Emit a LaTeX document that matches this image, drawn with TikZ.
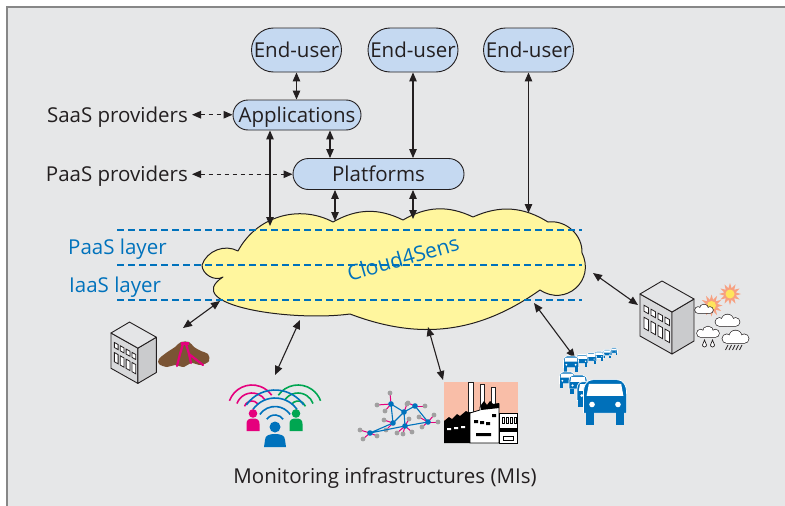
\documentclass[tikz,border=0pt]{standalone}
\usepackage{fontspec}
\setmainfont{Open Sans}
\usetikzlibrary{arrows.meta,shapes.misc}

\definecolor{bgc}{RGB}{230,231,232}
\definecolor{framec}{RGB}{135,135,135}
\definecolor{boxc}{RGB}{197,217,241}
\definecolor{inkc}{RGB}{35,31,32}
\definecolor{bluec}{RGB}{0,114,188}
\definecolor{cloudc}{RGB}{255,246,158}
\definecolor{magc}{RGB}{229,0,125}
\definecolor{greenc}{RGB}{0,166,81}
\definecolor{brownc}{RGB}{122,84,52}
\definecolor{salmonc}{RGB}{249,190,168}
\definecolor{sunc}{RGB}{247,160,128}
\definecolor{sunin}{RGB}{255,228,92}
\definecolor{dotc}{RGB}{160,160,160}
\definecolor{btop}{RGB}{228,229,231}
\definecolor{bfront}{RGB}{216,217,219}
\definecolor{bside}{RGB}{202,203,205}
\definecolor{carc}{RGB}{0,112,186}

\newcommand{\txtsize}{\fontsize{20.5}{24}\selectfont}

\tikzset{
  box/.style={rounded rectangle, draw=inkc, line width=0.9pt, fill=boxc, text=inkc,
    inner xsep=1pt, inner ysep=0pt, text height=14.5pt, text depth=0pt, font=\txtsize},
  eubox/.style={box, minimum width=92pt, minimum height=44pt},
  lbl/.style={text=inkc, inner sep=0pt, text height=14.5pt, text depth=0pt, font=\txtsize},
  layerlbl/.style={lbl, text=bluec},
  link/.style={draw=inkc, line width=1.1pt,
    {Triangle[length=9pt,width=7.5pt]}-{Triangle[length=9pt,width=7.5pt]}},
  dlink/.style={link, dash pattern=on 4.5pt off 3.5pt},
  tier/.style={draw=bluec, line width=1.1pt, dash pattern=on 6.5pt off 4.5pt},
  bldg/.pic={
    \draw[inkc, line width=0.9pt, fill=bfront, line join=round] (0,0) -- (32,18) -- (32,60) -- (0,42) -- cycle;
    \draw[inkc, line width=0.9pt, fill=bside, line join=round] (32,18) -- (54,5) -- (54,47) -- (32,60) -- cycle;
    \draw[inkc, line width=0.9pt, fill=btop, line join=round] (0,0) -- (22,-13) -- (54,5) -- (32,18) -- cycle;
    \foreach \u in {4,11,18,25} {
      \draw[inkc, line width=0.8pt, fill=white]
        ({\u},{9+0.5625*\u}) -- ({\u+4.5},{9+0.5625*(\u+4.5)}) -- ({\u+4.5},{15+0.5625*(\u+4.5)}) -- ({\u},{15+0.5625*\u}) -- cycle;
      \draw[inkc, line width=0.8pt, fill=white]
        ({\u},{21+0.5625*\u}) -- ({\u+4.5},{21+0.5625*(\u+4.5)}) -- ({\u+4.5},{32+0.5625*(\u+4.5)}) -- ({\u},{32+0.5625*\u}) -- cycle;
    }
  },
  car/.pic={
    \fill[carc, draw=white, line width=0.7pt] (-20,-11) -- (-20,-29) .. controls (-20,-37) and (-17,-42) .. (-11,-42)
      -- (11,-42) .. controls (17,-42) and (20,-37) .. (20,-29) -- (20,-11) -- cycle;
    \fill[carc] (-18,-12) rectangle (-10,0);
    \fill[carc] (10,-12) rectangle (18,0);
    \fill[white] (-15,-38) -- (15,-38) -- (17,-27) -- (-17,-27) -- cycle;
    \fill[white] (-12,-19) circle (2.6);
    \fill[white] (12,-19) circle (2.6);
  },
  sun/.pic={
    \fill[sunc] plot[variable=\a, samples at={0,15,...,345}]
      ({(8.5+2.5*cos(12*\a))*cos(\a)}, {(8.5+2.5*cos(12*\a))*sin(\a)}) -- cycle;
    \fill[sunin] (0,0) circle (4.5);
  },
  cloudlet/.pic={
    \draw[inkc, line width=1.3pt] (-7,-3.5) circle (3.5) (0,-5) circle (5) (7,-3.5) circle (3.5) (-7,0) -- (7,0);
    \fill[white] (-7,-3.5) circle (3.5);
    \fill[white] (0,-5) circle (5);
    \fill[white] (7,-3.5) circle (3.5);
    \fill[white] (-7,-3.5) rectangle (7,0);
  }
}

\begin{document}
\begin{tikzpicture}[x=1pt, y=-1pt]
\useasboundingbox (0,0) rectangle (785,506);
\fill[white] (0,0) rectangle (785,506);
\fill[bgc] (7,7) rectangle (785,506);
\draw[framec, line width=1.6pt] (7,506) -- (7,7) -- (785,7);

% ---- service nodes ----
\node[eubox] (eu1) at (296.5,50) {End-user};
\node[eubox] (eu2) at (413,50) {End-user};
\node[eubox] (eu3) at (528.5,50) {End-user};
\node[box, minimum width=130pt, minimum height=30pt] (app) at (297,115) {Applications};
\node[box, minimum width=173pt, minimum height=31pt] (plat) at (378.5,174) {Platforms};

\node[lbl, anchor=base east] (saas) at (188,122) {SaaS providers};
\node[lbl, anchor=base east] (paas) at (188,181.5) {PaaS providers};

% ---- the cloud ----
\draw[fill=cloudc, draw=inkc, line width=1pt, line join=round]
  (202,265) to[bend left=50] (238,251)
  to[bend left=45] (333,222)
  to[bend left=28] (403,220)
  to[bend left=28] (473,217)
  to[bend left=28] (548,222)
  to[bend left=50] (582,253)
  to[bend left=75, looseness=1.4] (540,290)
  to[bend left=28] (350,314)
  .. controls (290,322) and (180,305) .. (223,277)
  to[bend left=60] (202,265) -- cycle;

\draw[tier] (117,230) -- (582,230);
\draw[tier] (117,265) -- (582,265);
\draw[tier] (117,300) -- (582,300);

\node[layerlbl, anchor=base west] (paasl) at (68,254) {PaaS layer};
\node[layerlbl, anchor=base west] (iaasl) at (69,292) {IaaS layer};
\node[rotate=16, text=bluec, inner sep=0pt, font=\fontsize{21}{24}\selectfont] (brand) at (403,258) {Cloud4Sens};

% ---- upper connectors ----
\coordinate (xap) at (330,0);
\coordinate (ct1) at (270,226);
\coordinate (ct2) at (335,221);
\coordinate (ct3) at (413,219);
\coordinate (ct4) at (528.5,213);
\draw[link] (eu1.south) -- (eu1.south |- app.north);
\draw[link] (app.south -| xap) -- (plat.north -| xap);
\draw[link] (eu2.south) -- (eu2.south |- plat.north);
\draw[link] (app.south -| ct1) -- (ct1);
\draw[link] (plat.south -| ct2) -- (ct2);
\draw[link] (plat.south -| ct3) -- (ct3);
\draw[link] (eu3.south) -- (ct4);
\draw[dlink] ([xshift=4pt]saas.east) -- (saas.east -| app.west);
\draw[dlink] ([xshift=4pt]paas.east) -- (paas.east -| plat.west);

% ---- lower connectors ----
\coordinate (cb1) at (220,301); \coordinate (mi1) at (183,328);
\coordinate (cb2) at (300,320); \coordinate (mi2) at (275,375);
\coordinate (cb3) at (428,327); \coordinate (mi3) at (443,380);
\coordinate (cb4) at (534,303); \coordinate (mi4) at (575,358);
\coordinate (cb5) at (593,273); \coordinate (mi5) at (638,305);
\draw[link] (cb1) -- (mi1);
\draw[link] (cb2) -- (mi2);
\draw[link] (cb3) -- (mi3);
\draw[link] (cb4) -- (mi4);
\draw[link] (cb5) -- (mi5);

% ---- volcano site ----
\pic[scale=0.84] at (111,333) {bldg};
\fill[brownc] plot[smooth cycle, tension=0.6] coordinates {(159,359) (166,353) (175,347) (181,342) (189,342) (194,347) (201,351) (208,354) (209,361) (201,365) (191,363) (184,367) (175,365) (167,367) (159,364)};
\draw[magc, line width=2.2pt, line cap=round, line join=round]
  (183,344) -- (180,354) -- (177,366) (186,344) -- (189,354) -- (203,365) (189,354) -- (191,363);
\fill[magc] (181,341.5) rectangle (189,345);

% ---- people sensing ----
\foreach \r in {8,16,24} {
  \draw[magc, line width=1.6pt] (252,409) ++(-160:\r) arc[start angle=-160, end angle=-35, radius=\r];
  \draw[greenc, line width=1.6pt] (298,409) ++(-145:\r) arc[start angle=-145, end angle=-20, radius=\r];
}
\foreach \r in {10,18.5,27,35} {
  \draw[bluec, line width=1.6pt] (275,425) ++(-145:\r) arc[start angle=-145, end angle=-35, radius=\r];
}
\fill[magc] (253,413.5) circle (4.3);
\fill[magc] (246.5,431) -- (246.5,424) .. controls (246.5,419.5) and (249,418.5) .. (253,418.5) .. controls (257,418.5) and (259.5,419.5) .. (259.5,424) -- (259.5,431) -- cycle;
\fill[greenc] (296,413.5) circle (4.3);
\fill[greenc] (289.5,431) -- (289.5,424) .. controls (289.5,419.5) and (292,418.5) .. (296,418.5) .. controls (300,418.5) and (302.5,419.5) .. (302.5,424) -- (302.5,431) -- cycle;
\fill[bluec] (275,427) circle (5.5);
\fill[bluec] (264,447) -- (265,440) .. controls (265,435.5) and (269,434) .. (275,434) .. controls (281,434) and (285,435.5) .. (285,440) -- (286,447) -- cycle;

% ---- sensor network ----
\coordinate (n1) at (370,433);
\coordinate (n2) at (391,404);
\coordinate (n3) at (404,412);
\coordinate (n4) at (415,406);
\coordinate (n5) at (393,423);
\coordinate (n6) at (405,426);
\coordinate (n7) at (428,422);
\foreach \n/\dx/\dy in {n1/-10/-3, n1/-7/6, n1/7/3, n2/-1/-11, n2/-14/1, n2/-6/7, n3/3/-8,
    n4/10/0, n4/-7/-3, n5/-9/-3, n5/-7/7, n6/-8/7, n6/-2/8, n6/7/6, n6/4/-7,
    n7/6/-7, n7/10/0, n7/-6/5, n7/-9/-5} {
  \draw[magc, line width=1pt] (\n) -- ++(\dx,\dy);
  \fill[dotc] (\n) ++(\dx,\dy) circle (2.4);
}
\draw[bluec, line width=1.1pt] (n1) -- (n5) -- (n2) -- (n3) -- (n4) -- (n7) -- (n6) -- (n1)
  (n3) -- (n5) (n3) -- (n6);
\foreach \n in {n1,n2,n3,n4,n5,n6,n7} { \fill[bluec] (\n) circle (2.8); }

% ---- factory ----
\fill[salmonc] (444,382) rectangle (518,443);
\draw[inkc, fill=white, line width=0.7pt] (468.5,382.5) rectangle (473,412);
\draw[inkc, fill=white, line width=0.7pt] (480,384.5) rectangle (484.5,412);
\draw[inkc, fill=white, line width=0.7pt] (491.5,387.5) rectangle (495.5,412);
\fill[black] (444,421) -- (449,417) -- (452,419) -- (457,414) -- (460,416) -- (466,411) -- (470,413) -- (470,443) -- (444,443) -- cycle;
\fill[white] (447,428) rectangle (451,430) (454,427) rectangle (458,429) (461,426) rectangle (465,428);
\draw[black, fill=white, line width=0.8pt] (470,413) -- (480,410) -- (480,407) -- (499,404) -- (499,443) -- (470,443) -- cycle;
\fill[black] (481,405) -- (484,401) -- (487,405) -- (490,401) -- (493,404) -- (499,403) -- (499,408) -- (481,410) -- cycle;
\fill[black] (474,420) rectangle (478,423) (480,421) rectangle (484,424) (486,422) rectangle (490,425)
  (492,414) rectangle (496,417) (476,433) rectangle (491,436);
\draw[black, fill=white, line width=0.8pt] (499,413) rectangle (517.5,443);
\foreach \xx in {502,506,510,514} {
  \draw[black, line width=0.6pt] (\xx,417) rectangle (\xx+2.5,423);
}
\fill[black] (499,428) rectangle (517.5,432);
\draw[black, line width=0.6pt] (503,436) rectangle (513,440);

% ---- traffic ----
\pic[scale=0.17] at (614,355) {car};
\pic[scale=0.2] at (607,358) {car};
\pic[scale=0.23] at (599,361) {car};
\pic[scale=0.26] at (591,364) {car};
\pic[scale=0.3] at (582,367) {car};
\pic[scale=0.38] at (571,372) {car};
\pic[scale=0.38] at (567,388) {car};
\pic[scale=0.45] at (578,394) {car};
\pic[scale=0.6] at (589,407) {car};
\pic[scale=1.08] at (605,425) {car};

% ---- weather station ----
\pic at (640,294) {bldg};
\pic at (730,294) {sun};
\pic at (711.5,305.5) {sun};
\pic[scale=0.85] at (704,313) {cloudlet};
\pic[scale=1.15] at (727.5,326) {cloudlet};
\pic[scale=1.05] at (708,337) {cloudlet};
\pic[scale=1.25] at (735.5,343) {cloudlet};
\foreach \xx in {704.5,712.5} {
  \draw[inkc, line width=0.7pt, fill=white] (\xx,340) -- (\xx+2,345) arc[start angle=0, end angle=180, radius=2] -- cycle;
}
\foreach \xx in {728,731.5,735,738.5,742} {
  \draw[inkc, line width=0.7pt] (\xx,345) -- (\xx-2.5,350);
}

\node[lbl, anchor=base] (mis) at (385,483) {Monitoring infrastructures (MIs)};
\end{tikzpicture}
\end{document}
